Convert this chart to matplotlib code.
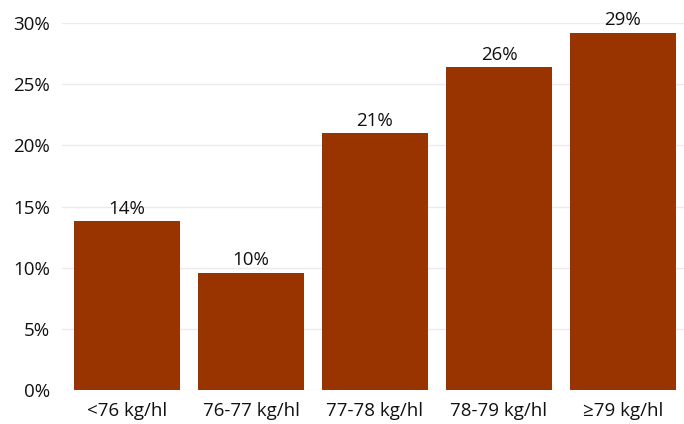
import matplotlib.pyplot as plt
from matplotlib.ticker import FuncFormatter

categories = ['<76 kg/hl', '76-77 kg/hl', '77-78 kg/hl', '78-79 kg/hl', '≥79 kg/hl']
shares = [13.8, 9.6, 21.0, 26.4, 29.2]
labels = ['14%', '10%', '21%', '26%', '29%']

plt.rcParams['font.family'] = ['Open Sans', 'DejaVu Sans']

fig = plt.figure(figsize=(6.84, 4.24), dpi=100)
ax = fig.add_axes([62 / 684, 34 / 424, 622 / 684, 367 / 424])

x = range(len(categories))
bars = ax.bar(x, shares, width=0.855, color='#993300', zorder=2)

for b, lab in zip(bars, labels):
    ax.annotate(lab, (b.get_x() + b.get_width() / 2, b.get_height()),
                xytext=(0, 2.5), textcoords='offset points',
                ha='center', va='bottom', fontsize=13.5, color='#111111',
                annotation_clip=False)

ax.set_xlim(-0.524, 4.492)
ax.set_ylim(0, 30)
ax.set_yticks(range(0, 31, 5))
ax.yaxis.set_major_formatter(FuncFormatter(lambda v, _: f'{v:.0f}%'))
ax.set_xticks(list(x))
ax.set_xticklabels(categories)
ax.tick_params(axis='both', length=0, labelsize=13.5, colors='#111111')
ax.tick_params(axis='x', pad=9)
ax.tick_params(axis='y', pad=8.5)

ax.grid(axis='y', color='#ebebeb', linewidth=1, zorder=0)
for s in ax.spines.values():
    s.set_visible(False)

fig.savefig('out.png', dpi=100)
